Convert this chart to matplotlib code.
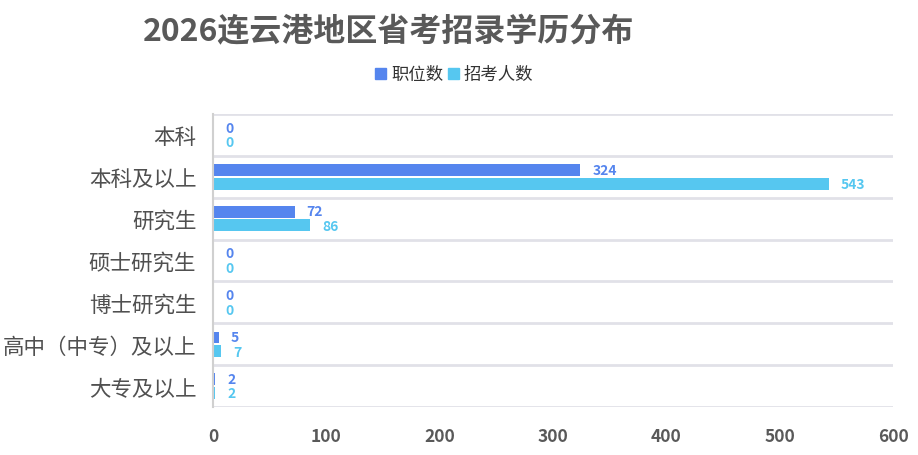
import numpy as np
import matplotlib
matplotlib.use("Agg")
import matplotlib.pyplot as plt
from matplotlib.patches import Patch

plt.rcParams['font.family'] = ['Noto Sans CJK SC', 'DejaVu Sans']

categories = ['本科', '本科及以上', '研究生', '硕士研究生', '博士研究生', '高中（中专）及以上', '大专及以上']
posts = [0, 324, 72, 0, 0, 5, 2]
applicants = [0, 543, 86, 0, 0, 7, 2]
series_names = ['职位数', '招考人数']
xticks = [0, 100, 200, 300, 400, 500, 600]

c_blue = '#5585EE'
c_cyan = '#56C7F0'
c_text = '#595959'

fig = plt.figure(figsize=(9.18, 4.56), dpi=100)
ax = fig.add_axes([0.232, 0.105, 0.741, 0.643])

y = np.arange(len(categories))
h = 0.285
ax.barh(y - h / 2 - 0.02, posts, height=h, color=c_blue)
ax.barh(y + h / 2 + 0.02, applicants, height=h, color=c_cyan)

for yi, v in zip(y, posts):
    ax.annotate(str(v), (v, yi - h / 2 - 0.03), xytext=(12, 0), textcoords='offset pixels',
                va='center', ha='left', color=c_blue, fontsize=10, fontweight='bold')
for yi, v in zip(y, applicants):
    ax.annotate(str(v), (v, yi + h / 2 + 0.03), xytext=(12, 0), textcoords='offset pixels',
                va='center', ha='left', color=c_cyan, fontsize=10, fontweight='bold')

for b in np.arange(-0.5, len(categories), 1.0):
    ax.axhline(b, color='#E1E1E8', lw=2, zorder=0)

ax.set_xlim(0, 600)
ax.set_ylim(len(categories) - 0.5, -0.5)
ax.set_xticks(xticks)
ax.set_xticklabels([str(t) for t in xticks], fontsize=12.5, fontweight='bold', color=c_text)
ax.set_yticks(y)
ax.set_yticklabels(categories, fontsize=15.5, color='#505050', fontweight='medium')
ax.tick_params(axis='y', length=0, pad=12)
ax.tick_params(axis='x', length=0, pad=14)
for s in ['top', 'right', 'bottom']:
    ax.spines[s].set_visible(False)
ax.spines['left'].set_color('#D0D0D0')
ax.spines['left'].set_linewidth(1.5)

fig.text(0.423, 0.93, '2026连云港地区省考招录学历分布', ha='center', va='center',
         fontsize=23, fontweight='bold', color=c_text)

handles = [Patch(color=c_blue, label=series_names[0]), Patch(color=c_cyan, label=series_names[1])]
fig.legend(handles=handles, loc='center', bbox_to_anchor=(0.495, 0.835), ncol=2, frameon=False,
           fontsize=12.5, handlelength=0.6, handleheight=0.6, handletextpad=0.3, columnspacing=0.3,
           labelcolor='#333333')

fig.savefig('out.png', dpi=100)
